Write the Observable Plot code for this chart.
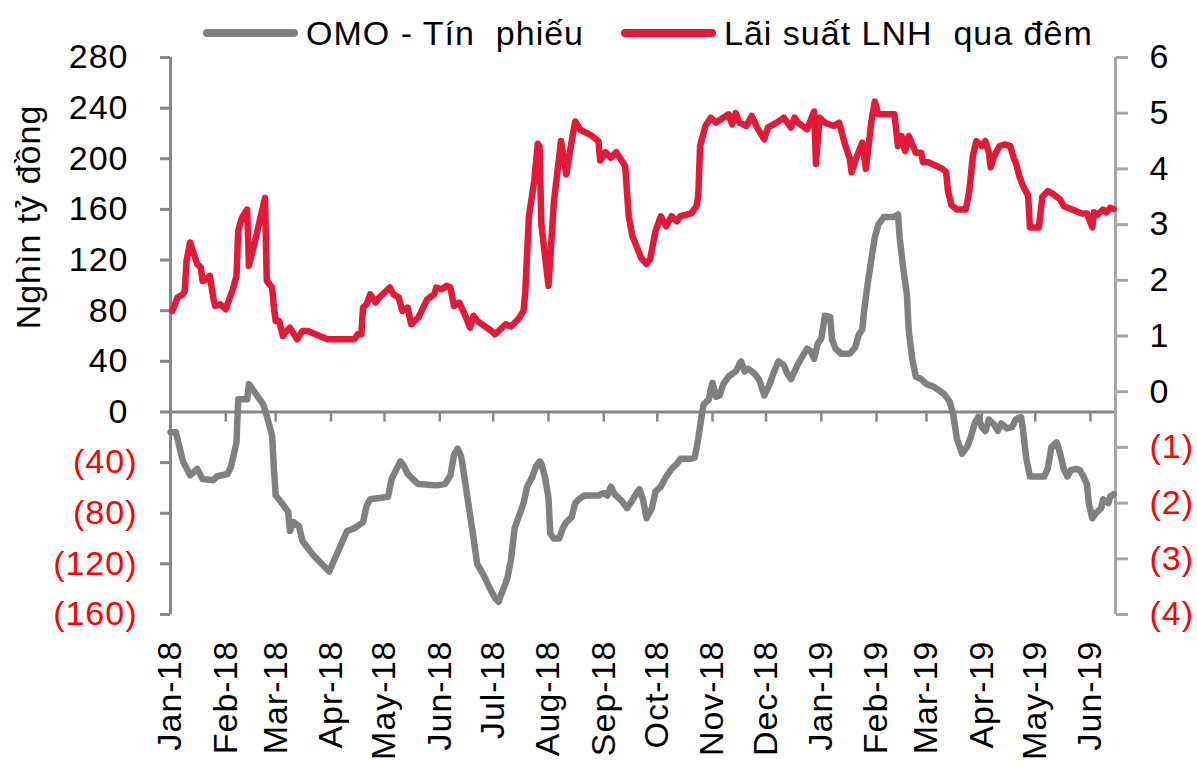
<!DOCTYPE html>
<html><head><meta charset="utf-8">
<script src="https://cdn.jsdelivr.net/npm/d3@7"></script>
<script src="https://cdn.jsdelivr.net/npm/@observablehq/plot@0.6"></script>
<style>
body{margin:0;background:#fff;}
#wrap{position:relative;width:1197px;height:773px;overflow:hidden;font-family:"Liberation Sans",Arial,sans-serif;color:#000;}
#wrap svg{position:absolute;left:0;top:0;}
.item{position:absolute;top:13px;height:40px;display:flex;align-items:center;font-size:34px;letter-spacing:1px;white-space:pre;z-index:2;}
.sw{display:inline-block;width:95px;height:8px;border-radius:4px;margin-right:8px;}
#ytitle{position:absolute;left:-122px;top:197px;width:300px;height:40px;line-height:40px;text-align:center;font-size:34px;letter-spacing:1px;transform:rotate(-90deg);z-index:2;white-space:nowrap;}
</style></head>
<body><div id="wrap">
<div class="item" style="left:203px"><span class="sw" style="background:#808080"></span><span>OMO - Tín  phiếu</span></div>
<div class="item" style="left:621px"><span class="sw" style="background:#E31937"></span><span>Lãi suất LNH  qua đêm</span></div>
<div id="ytitle">Nghìn tỷ đồng</div>
</div>
<script>
const omoDates = ["2018-01-01","2018-01-04","2018-01-08","2018-01-12","2018-01-16","2018-01-19","2018-01-25","2018-01-27","2018-02-02","2018-02-04","2018-02-07","2018-02-08","2018-02-13","2018-02-14","2018-02-22","2018-02-24","2018-02-27","2018-02-28","2018-03-01","2018-03-04","2018-03-08","2018-03-09","2018-03-11","2018-03-14","2018-03-16","2018-03-22","2018-03-31","2018-04-10","2018-04-14","2018-04-19","2018-04-21","2018-04-23","2018-05-03","2018-05-05","2018-05-10","2018-05-12","2018-05-14","2018-05-17","2018-05-20","2018-05-30","2018-06-04","2018-06-07","2018-06-09","2018-06-11","2018-06-13","2018-06-15","2018-06-17","2018-06-20","2018-06-22","2018-06-26","2018-06-29","2018-07-02","2018-07-04","2018-07-05","2018-07-08","2018-07-09","2018-07-11","2018-07-13","2018-07-15","2018-07-18","2018-07-20","2018-07-23","2018-07-25","2018-07-27","2018-07-28","2018-07-30","2018-08-01","2018-08-02","2018-08-04","2018-08-07","2018-08-09","2018-08-11","2018-08-14","2018-08-16","2018-08-18","2018-08-21","2018-08-25","2018-08-29","2018-09-01","2018-09-03","2018-09-05","2018-09-07","2018-09-11","2018-09-14","2018-09-16","2018-09-19","2018-09-21","2018-09-23","2018-09-25","2018-09-28","2018-09-30","2018-10-03","2018-10-06","2018-10-09","2018-10-12","2018-10-14","2018-10-20","2018-10-22","2018-10-24","2018-10-26","2018-10-27","2018-10-30","2018-10-31","2018-11-01","2018-11-03","2018-11-05","2018-11-07","2018-11-10","2018-11-14","2018-11-17","2018-11-19","2018-11-21","2018-11-24","2018-11-27","2018-11-28","2018-11-30","2018-12-03","2018-12-05","2018-12-08","2018-12-11","2018-12-13","2018-12-15","2018-12-17","2018-12-19","2018-12-21","2018-12-24","2018-12-26","2018-12-28","2018-12-30","2019-01-01","2019-01-03","2019-01-06","2019-01-07","2019-01-09","2019-01-12","2019-01-17","2019-01-20","2019-01-22","2019-01-24","2019-01-25","2019-01-27","2019-01-29","2019-01-31","2019-02-02","2019-02-05","2019-02-11","2019-02-13","2019-02-14","2019-02-16","2019-02-18","2019-02-19","2019-02-21","2019-02-23","2019-02-26","2019-03-01","2019-03-05","2019-03-08","2019-03-11","2019-03-14","2019-03-16","2019-03-18","2019-03-21","2019-03-24","2019-03-26","2019-03-28","2019-03-30","2019-04-01","2019-04-03","2019-04-05","2019-04-08","2019-04-10","2019-04-12","2019-04-15","2019-04-18","2019-04-20","2019-04-23","2019-04-24","2019-04-26","2019-04-28","2019-05-06","2019-05-08","2019-05-10","2019-05-13","2019-05-15","2019-05-17","2019-05-19","2019-05-21","2019-05-24","2019-05-26","2019-05-28","2019-05-30","2019-05-31","2019-06-02","2019-06-04","2019-06-07","2019-06-08","2019-06-11","2019-06-12","2019-06-14"];
const omoValues = [-16,-16,-39,-50,-45,-53,-54,-51,-49,-43,-24,10,10,22,6,-3,-19,-45,-66,-71,-79,-94,-87,-90,-102,-113,-126,-94,-92,-87,-74,-69,-67,-53,-39,-43,-49,-53,-57,-58,-57,-50,-34,-29,-35,-53,-72,-100,-120,-130,-139,-147,-150,-146,-135,-131,-116,-92,-84,-72,-59,-51,-43,-39,-41,-51,-68,-96,-100,-100,-92,-87,-83,-72,-69,-66,-66,-66,-64,-66,-59,-65,-70,-76,-72,-65,-61,-69,-84,-76,-63,-59,-51,-45,-41,-37,-37,-36,-21,-2,6,10,18,23,12,13,22,28,32,40,32,34,31,26,22,13,22,30,40,37,30,26,32,38,43,50,48,42,54,58,76,75,57,50,46,46,51,61,65,80,101,120,138,148,154,154,156,137,113,93,65,42,28,26,22,20,17,14,8,-2,-21,-33,-27,-19,-9,-4,-12,-15,-6,-10,-15,-9,-13,-12,-6,-4,-13,-37,-51,-51,-45,-28,-24,-33,-45,-51,-46,-45,-46,-51,-57,-72,-84,-80,-76,-69,-72,-67,-65];

const rateDates = ["2018-01-02","2018-01-05","2018-01-08","2018-01-09","2018-01-10","2018-01-12","2018-01-16","2018-01-18","2018-01-19","2018-01-21","2018-01-23","2018-01-25","2018-01-26","2018-01-29","2018-02-01","2018-02-03","2018-02-05","2018-02-07","2018-02-08","2018-02-10","2018-02-13","2018-02-14","2018-02-17","2018-02-23","2018-02-24","2018-02-27","2018-02-28","2018-03-01","2018-03-03","2018-03-05","2018-03-08","2018-03-09","2018-03-13","2018-03-16","2018-03-19","2018-03-30","2018-04-14","2018-04-16","2018-04-18","2018-04-19","2018-04-21","2018-04-23","2018-04-26","2018-04-28","2018-05-04","2018-05-06","2018-05-09","2018-05-11","2018-05-14","2018-05-16","2018-05-18","2018-05-20","2018-05-25","2018-05-29","2018-05-30","2018-06-02","2018-06-05","2018-06-07","2018-06-09","2018-06-12","2018-06-15","2018-06-18","2018-06-20","2018-06-22","2018-06-30","2018-07-02","2018-07-05","2018-07-08","2018-07-11","2018-07-15","2018-07-18","2018-07-19","2018-07-21","2018-07-24","2018-07-26","2018-07-27","2018-07-28","2018-08-01","2018-08-04","2018-08-08","2018-08-11","2018-08-14","2018-08-16","2018-08-19","2018-08-25","2018-08-29","2018-08-30","2018-09-02","2018-09-05","2018-09-08","2018-09-11","2018-09-13","2018-09-15","2018-09-17","2018-09-22","2018-09-25","2018-09-27","2018-09-30","2018-10-03","2018-10-06","2018-10-09","2018-10-12","2018-10-14","2018-10-20","2018-10-23","2018-10-24","2018-10-25","2018-10-28","2018-10-31","2018-11-03","2018-11-07","2018-11-10","2018-11-12","2018-11-14","2018-11-16","2018-11-20","2018-11-23","2018-11-26","2018-11-30","2018-12-02","2018-12-07","2018-12-11","2018-12-15","2018-12-17","2018-12-19","2018-12-24","2018-12-28","2018-12-29","2018-12-31","2019-01-03","2019-01-08","2019-01-11","2019-01-14","2019-01-17","2019-01-18","2019-01-21","2019-01-24","2019-01-26","2019-01-29","2019-01-31","2019-02-02","2019-02-11","2019-02-13","2019-02-15","2019-02-17","2019-02-19","2019-02-23","2019-02-26","2019-02-27","2019-03-02","2019-03-06","2019-03-10","2019-03-12","2019-03-13","2019-03-15","2019-03-18","2019-03-23","2019-03-25","2019-03-27","2019-03-29","2019-04-01","2019-04-03","2019-04-05","2019-04-06","2019-04-08","2019-04-11","2019-04-14","2019-04-17","2019-04-19","2019-04-20","2019-04-22","2019-04-24","2019-04-27","2019-04-28","2019-05-03","2019-05-05","2019-05-08","2019-05-11","2019-05-15","2019-05-17","2019-05-21","2019-05-24","2019-05-27","2019-05-30","2019-06-02","2019-06-03","2019-06-05","2019-06-08","2019-06-10","2019-06-12","2019-06-14"];
const rateValues = [1.45,1.69,1.75,1.81,2.35,2.68,2.29,2.23,1.99,2.02,2.08,1.69,1.54,1.57,1.48,1.66,1.84,2.08,2.89,3.12,3.27,2.26,2.65,3.48,1.99,1.87,1.51,1.27,1.27,1.0,1.12,1.15,0.94,1.09,1.09,0.94,0.94,1.03,1.03,1.51,1.57,1.75,1.6,1.69,1.87,1.75,1.69,1.45,1.51,1.21,1.27,1.33,1.66,1.75,1.87,1.84,1.9,1.87,1.54,1.6,1.39,1.15,1.36,1.27,1.09,1.03,1.12,1.21,1.17,1.3,1.45,1.8,3.15,3.78,4.45,4.4,3.0,1.9,3.4,4.5,3.9,4.5,4.85,4.7,4.6,4.5,4.15,4.3,4.2,4.3,4.15,4.05,3.15,2.8,2.4,2.29,2.38,2.88,3.15,2.97,3.15,3.06,3.15,3.2,3.33,3.52,4.41,4.77,4.92,4.83,4.92,4.98,4.8,5.0,4.83,4.77,4.95,4.74,4.53,4.74,4.83,4.92,4.74,4.92,4.83,4.71,5.03,4.09,4.92,4.83,4.77,4.83,4.47,4.18,3.94,4.23,4.47,4.0,4.83,5.21,4.98,4.98,4.41,4.59,4.32,4.59,4.29,4.29,4.12,4.12,4.06,4.0,3.94,3.61,3.35,3.27,3.27,3.6,4.23,4.5,4.41,4.5,4.29,4.03,4.23,4.41,4.44,4.41,4.18,4.12,3.88,3.7,3.52,2.95,2.95,3.5,3.6,3.55,3.45,3.33,3.28,3.24,3.2,3.2,2.95,3.22,3.18,3.27,3.22,3.3,3.28];

const monthTicks = ["2018-01-01","2018-02-01","2018-03-01","2018-04-01","2018-05-01","2018-06-01","2018-07-01","2018-08-01","2018-09-01","2018-10-01","2018-11-01","2018-12-01","2019-01-01","2019-02-01","2019-03-01","2019-04-01","2019-05-01","2019-06-01"];
const leftTicks = [-160,-120,-80,-40,0,40,80,120,160,200,240,280];
const rightTicks = [-4,-3,-2,-1,0,1,2,3,4,5,6];
const xStart = "2018-01-01", xEnd = "2019-06-15";

const parse = d3.utcParse("%Y-%m-%d");
const omo = omoDates.map((d, i) => ({date: parse(d), value: omoValues[i]}));
const rate = rateDates.map((d, i) => ({date: parse(d), value: rateValues[i]}));
// right axis (%) -> left axis units: 6 ↔ 280, -4 ↔ -160
const toLeft = r => 44 * r + 16;
const fromLeft = v => Math.round((v - 16) / 44);
const paren = n => n < 0 ? `(${-n})` : `${n}`;
const axisGray = "#878787";
const xDomain = [parse(xStart), parse(xEnd)];
const months = monthTicks.map(parse);

const chart = Plot.plot({
  width: 1197, height: 773,
  marginTop: 57, marginBottom: 159, marginLeft: 170, marginRight: 82,
  style: {fontFamily: "'Liberation Sans', Arial, sans-serif", fontSize: "34px", letterSpacing: "1px", background: "transparent", overflow: "visible"},
  x: {type: "utc", domain: xDomain},
  y: {domain: [-160, 280]},
  marks: [
    Plot.ruleY([0], {stroke: axisGray, strokeWidth: 3}),
    Plot.ruleX(months.slice(1), {x: d => d, y1: 0, y2: -8, stroke: axisGray, strokeWidth: 2.5}),
    Plot.ruleX([xDomain[0]], {y1: -160, y2: 280, stroke: axisGray, strokeWidth: 3}),
    Plot.ruleX([xDomain[1]], {y1: -160, y2: 280, stroke: "#a6a6a6", strokeWidth: 3}),
    Plot.axisY({anchor: "left", ticks: leftTicks.filter(t => t >= 0), tickFormat: paren, tickSize: 10, tickPadding: 32, stroke: axisGray, strokeWidth: 3, fill: "black", fontSize: 34, label: null}),
    Plot.axisY({anchor: "left", ticks: leftTicks.filter(t => t < 0), tickFormat: paren, tickSize: 10, tickPadding: 23, stroke: axisGray, strokeWidth: 3, fill: "#ff0000", fontSize: 34, label: null}),
    Plot.axisY({anchor: "right", ticks: rightTicks.filter(t => t >= 0).map(toLeft), tickFormat: v => paren(fromLeft(v)), tickSize: 12, tickPadding: 22, stroke: "#a6a6a6", strokeWidth: 3, fill: "black", fontSize: 34, label: null}),
    Plot.axisY({anchor: "right", ticks: rightTicks.filter(t => t < 0).map(toLeft), tickFormat: v => paren(fromLeft(v)), tickSize: 12, tickPadding: 22, stroke: "#a6a6a6", strokeWidth: 3, fill: "#ff0000", fontSize: 34, label: null}),
    Plot.axisX({ticks: months, tickFormat: d3.utcFormat("%b-%y"), tickRotate: -90, tickSize: 0, tickPadding: 26, fontSize: 34, fill: "black", label: null}),
    Plot.line(omo, {x: "date", y: "value", stroke: "#808080", strokeWidth: 6.5}),
    Plot.line(rate, {x: "date", y: d => toLeft(d.value), stroke: "#E31937", strokeWidth: 6.5})
  ]
});
document.getElementById("wrap").prepend(chart);
</script>
</body></html>
